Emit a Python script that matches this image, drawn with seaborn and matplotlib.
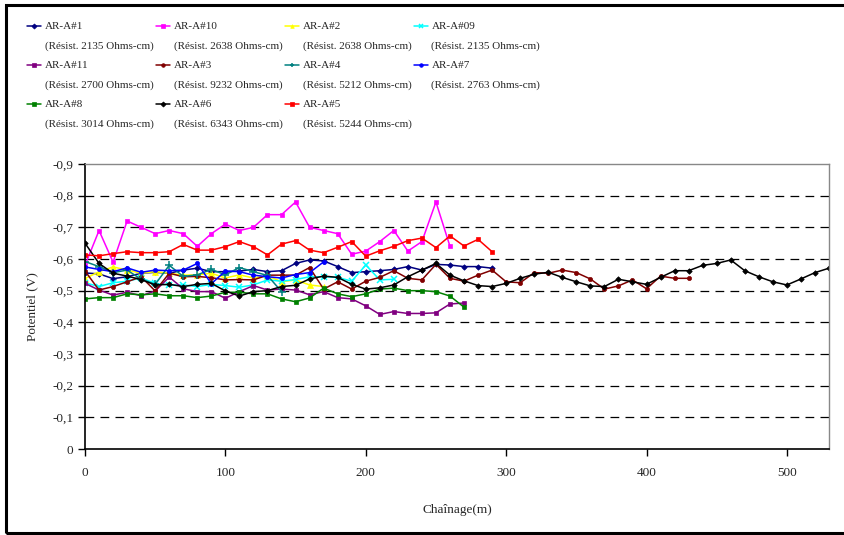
import numpy as np
import pandas as pd
import matplotlib
matplotlib.use('Agg')
import matplotlib.pyplot as plt
import seaborn as sns
from matplotlib.legend_handler import HandlerLine2D
from matplotlib.patches import Rectangle
from matplotlib.ticker import FuncFormatter

# ------------------------------------------------------------
# data (potential in V, one reading every 10 m of chainage)
# ------------------------------------------------------------
step = 10

a1 = [-0.556, -0.553, -0.538, -0.544, -0.555, -0.558, -0.555, -0.565, -0.571, -0.56,
      -0.56, -0.562, -0.567, -0.56, -0.563, -0.586, -0.597, -0.594, -0.576, -0.557,
      -0.56, -0.563, -0.567, -0.576, -0.565, -0.583, -0.581, -0.576, -0.576, -0.571]
a10 = [-0.58, -0.69, -0.59, -0.72, -0.70, -0.68, -0.69, -0.68, -0.64, -0.68,
       -0.71, -0.69, -0.70, -0.74, -0.74, -0.78, -0.70, -0.69, -0.68, -0.615,
       -0.625, -0.655, -0.69, -0.625, -0.655, -0.78, -0.64]
a2 = [-0.538, -0.56, -0.575, -0.565, -0.555, -0.56, -0.555, -0.549, -0.55, -0.555,
      -0.54, -0.55, -0.54, -0.547, -0.528, -0.534, -0.518, -0.513]
a09 = [-0.525, -0.513, -0.525, -0.53, -0.54, -0.523, -0.518, -0.518, -0.513, -0.52,
       -0.516, -0.511, -0.518, -0.534, -0.53, -0.535, -0.544, -0.544, -0.542, -0.53,
       -0.581, -0.534, -0.536]
a11 = [-0.523, -0.502, -0.486, -0.495, -0.484, -0.499, -0.543, -0.506, -0.497, -0.497,
       -0.476, -0.497, -0.516, -0.502, -0.505, -0.502, -0.487, -0.497, -0.478, -0.474,
       -0.452, -0.425, -0.434, -0.428, -0.428, -0.43, -0.458, -0.461]
a3 = [-0.562, -0.502, -0.513, -0.528, -0.544, -0.499, -0.555, -0.544, -0.545, -0.541,
      -0.534, -0.535, -0.534, -0.549, -0.549, -0.549, -0.573, -0.505, -0.528, -0.505,
      -0.53, -0.542, -0.563, -0.539, -0.534, -0.583, -0.539, -0.53, -0.549, -0.565,
      -0.528, -0.525, -0.557, -0.555, -0.565, -0.557, -0.537, -0.505, -0.515, -0.534,
      -0.506, -0.546, -0.539, -0.539]
a4 = [-0.592, -0.576, -0.557, -0.565, -0.536, -0.52, -0.58, -0.545, -0.55, -0.567,
      -0.55, -0.573, -0.56, -0.548, -0.497]
a7 = [-0.575, -0.567, -0.56, -0.572, -0.558, -0.565, -0.563, -0.565, -0.586, -0.522,
      -0.562, -0.56, -0.549, -0.544, -0.54, -0.551, -0.557, -0.591]
a8 = [-0.474, -0.478, -0.478, -0.49, -0.487, -0.49, -0.484, -0.484, -0.478, -0.483,
      -0.495, -0.495, -0.49, -0.49, -0.474, -0.465, -0.477, -0.508, -0.49, -0.481,
      -0.49, -0.505, -0.508, -0.5, -0.5, -0.497, -0.483, -0.448]
a6 = [-0.65, -0.586, -0.555, -0.546, -0.535, -0.518, -0.52, -0.513, -0.52, -0.523,
      -0.499, -0.483, -0.497, -0.50, -0.513, -0.517, -0.537, -0.546, -0.542, -0.52,
      -0.505, -0.509, -0.518, -0.544, -0.565, -0.586, -0.549, -0.531, -0.516, -0.513,
      -0.523, -0.539, -0.552, -0.558, -0.542, -0.528, -0.515, -0.513, -0.536, -0.528,
      -0.52, -0.542, -0.563, -0.563, -0.58, -0.586, -0.597, -0.563, -0.544, -0.528,
      -0.518, -0.537, -0.557, -0.571]
a5 = [-0.613, -0.61, -0.617, -0.623, -0.62, -0.62, -0.623, -0.646, -0.628, -0.628,
      -0.639, -0.655, -0.639, -0.613, -0.647, -0.658, -0.628, -0.62, -0.637, -0.655,
      -0.609, -0.626, -0.64, -0.658, -0.666, -0.636, -0.673, -0.641, -0.662, -0.623]

names = ['AR-A#1', 'AR-A#10', 'AR-A#2', 'AR-A#09', 'AR-A#11', 'AR-A#3',
         'AR-A#4', 'AR-A#7', 'AR-A#8', 'AR-A#6', 'AR-A#5']
resist = [2135, 2638, 2638, 2135, 2700, 9232, 5212, 2763, 3014, 6343, 5244]
values = [a1, a10, a2, a09, a11, a3, a4, a7, a8, a6, a5]

colors = ['#000080', '#FF00FF', '#FFFF00', '#00FFFF', '#800080', '#800000',
          '#008080', '#0000FF', '#008000', '#000000', '#FF0000']
markers = ['D', 's', '^', 'x', 's', 'o', '+', 'o', 's', 'D', 's']
msizes = [2.8, 3.3, 3.8, 4.2, 3.3, 3.0, 5.5, 3.0, 2.6, 2.8, 3.3]

# ------------------------------------------------------------
# plot
# ------------------------------------------------------------
sns.set_style('white')
plt.rcParams['font.family'] = ['Liberation Serif', 'DejaVu Serif']
plt.rcParams['font.size'] = 9

fig = plt.figure(figsize=(8.44, 5.35), dpi=100)
ax = fig.add_axes([85 / 844, 1 - 449 / 535, (829 - 85) / 844, (449 - 164) / 535])

for name, r, vals, c, m, ms in zip(names, resist, values, colors, markers, msizes):
    df = pd.DataFrame({'ch': np.arange(len(vals)) * step, 'pot': vals})
    mew = 1.1 if m in ('x', '+') else 0.5
    sns.lineplot(data=df, x='ch', y='pot', ax=ax, color=c, marker=m,
                 markersize=ms, markeredgecolor=c, markeredgewidth=mew,
                 linewidth=1.1, label=f'{name}\n(Résist. {r} Ohms-cm)')

ax.set_xlim(0, 530)
ax.set_ylim(0, -0.9)
ax.set_xticks([0, 100, 200, 300, 400, 500])
ax.set_yticks(np.arange(0, -0.91, -0.1))
ax.yaxis.set_major_formatter(FuncFormatter(
    lambda v, p: '0' if abs(v) < 1e-9 else f'{v:.1f}'.replace('.', ',')))
ax.tick_params(axis='both', direction='out', length=5, width=1, color='black',
               labelsize=9.5, left=True, bottom=True)
ax.tick_params(axis='x', pad=8)

for yv in np.arange(-0.1, -0.85, -0.1):
    ax.axhline(yv, color='black', lw=0.9, ls=(0, (7, 5)), zorder=0)

for s in ['left', 'bottom']:
    ax.spines[s].set_color('black')
    ax.spines[s].set_linewidth(1.2)
for s in ['top', 'right']:
    ax.spines[s].set_color('#888888')
    ax.spines[s].set_linewidth(1)

ax.set_xlabel('Chaînage(m)', fontsize=9.5, labelpad=18)
ax.set_ylabel('Potentiel (V)', fontsize=9.5, labelpad=10)


class TopLine(HandlerLine2D):
    # put the legend line next to the first text line (Excel style)
    def create_artists(self, legend, orig_handle, xdescent, ydescent,
                       width, height, fontsize, trans):
        return super().create_artists(legend, orig_handle, xdescent,
                                      ydescent - 1.8 * fontsize, width, height,
                                      fontsize, trans)


handles, labels = ax.get_legend_handles_labels()
ax.get_legend().remove()
order = [0, 4, 8, 1, 5, 9, 2, 6, 10, 3, 7]
leg = fig.legend([handles[i] for i in order], [labels[i] for i in order],
                 loc='upper left', bbox_to_anchor=(27 / 844, 1 - 22 / 535),
                 ncol=4, frameon=False, fontsize=8, handlelength=1.3,
                 handletextpad=0.3, columnspacing=0.2, labelspacing=0.95,
                 borderpad=0, borderaxespad=0, handler_map={plt.Line2D: TopLine()})
for t in leg.get_texts():
    t.set_linespacing(2.35)
for h in leg.legend_handles:
    h.set_markersize(2.6)

# chart border
fig.patches.append(Rectangle((6 / 844, 1 - 533 / 535), 1.2, (533 - 5) / 535,
                             transform=fig.transFigure, fill=False,
                             edgecolor='black', linewidth=2.2))

fig.savefig('out.png', dpi=100)
